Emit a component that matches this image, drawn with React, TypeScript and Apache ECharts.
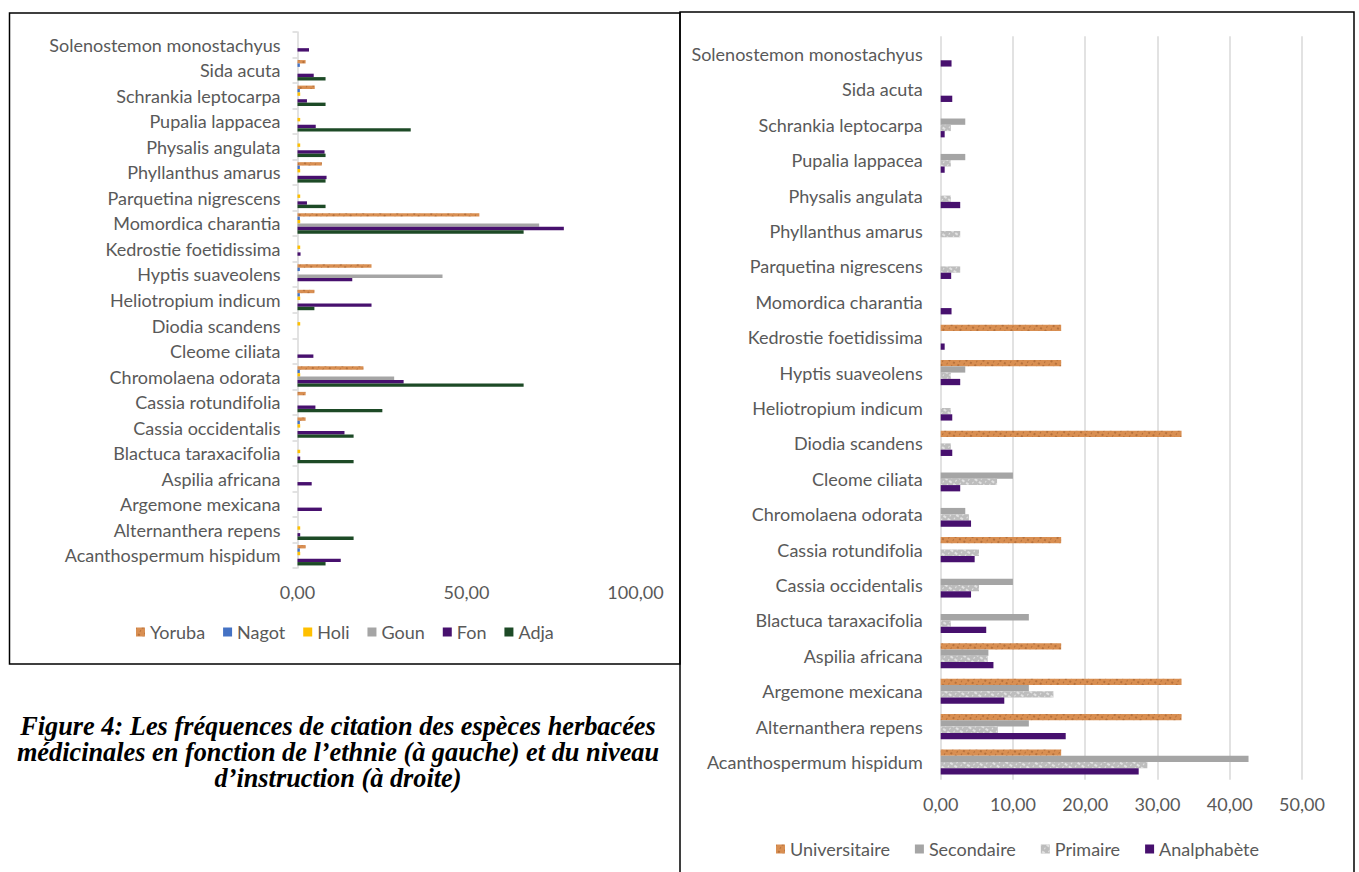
import React, { useEffect, useRef } from "react";
import * as echarts from "echarts";

// Species, listed bottom-to-top as they appear on the category axes
const species = [
  "Acanthospermum hispidum",
  "Alternanthera repens",
  "Argemone mexicana",
  "Aspilia africana",
  "Blactuca taraxacifolia",
  "Cassia occidentalis",
  "Cassia rotundifolia",
  "Chromolaena odorata",
  "Cleome ciliata",
  "Diodia scandens",
  "Heliotropium indicum",
  "Hyptis suaveolens",
  "Kedrostie foetidissima",
  "Momordica charantia",
  "Parquetina nigrescens",
  "Phyllanthus amarus",
  "Physalis angulata",
  "Pupalia lappacea",
  "Schrankia leptocarpa",
  "Sida acuta",
  "Solenostemon monostachyus",
];

// Citation frequencies by ethnic group
const yoruba = [2.4, 0, 0, 0, 0, 2.4, 2.4, 19.5, 0, 0, 5.0, 21.9, 0, 53.8, 0, 7.2, 0, 0, 5.1, 2.4, 0];
const nagot = [0.7, 0, 0, 0, 0, 0.7, 0, 0.7, 0, 0, 0.7, 0.7, 0, 0.7, 0, 0.7, 0, 0, 0.7, 0.7, 0];
const holi = [0.8, 0.8, 0, 0, 0.8, 0.8, 0, 0.8, 0, 0.8, 0.8, 0, 0.8, 0.8, 0.8, 0.8, 0.8, 0.8, 0.8, 0, 0];
const goun = [0, 0, 0, 0, 0, 0, 0, 28.6, 0, 0, 0, 42.9, 0, 71.5, 0, 0, 0, 0, 0, 0, 0];
const fon = [12.8, 0.8, 7.2, 4.2, 0.8, 13.9, 5.3, 31.4, 4.7, 0, 21.9, 16.2, 0.9, 78.8, 2.8, 8.6, 8.0, 5.4, 2.8, 4.8, 3.4];
const adja = [8.3, 16.6, 0, 0, 16.6, 16.6, 25.1, 66.9, 0, 0, 5.0, 0, 0, 66.9, 8.3, 8.3, 8.3, 33.5, 8.3, 8.3, 0];

// Citation frequencies by level of education
const universitaire = [16.67, 33.33, 33.33, 16.67, 0, 0, 16.67, 0, 0, 33.33, 0, 16.67, 16.67, 0, 0, 0, 0, 0, 0, 0, 0];
const secondaire = [42.6, 12.2, 12.2, 6.6, 12.2, 10.0, 0, 3.4, 10.0, 0, 0, 3.4, 0, 0, 0, 0, 0, 3.4, 3.4, 0, 0];
const primaire = [28.6, 7.9, 15.6, 6.5, 1.4, 5.3, 5.3, 3.9, 7.8, 1.4, 1.4, 1.4, 0, 0, 2.7, 2.7, 1.4, 1.4, 1.4, 0, 0];
const analphabete = [27.4, 17.3, 8.8, 7.3, 6.3, 4.2, 4.7, 4.2, 2.7, 1.6, 1.6, 2.7, 0.55, 1.5, 1.45, 0, 2.7, 0.55, 0.55, 1.6, 1.5];

// Axis tick values
const leftTicks = { min: 0, max: 100, interval: 50 };
const rightTicks = { min: 0, max: 50, interval: 10 };

const captionLines = [
  "Figure 4: Les fréquences de citation des espèces herbacées",
  "médicinales en fonction de l’ethnie (à gauche) et du niveau",
  "d’instruction (à droite)",
];

const FONT = "Lato";
const FONT_SIZE = 18;
const TEXT = "#595959";
const AXIS_GREY = "#D9D9D9";

const fmt = (v: number) => v.toFixed(2).replace(".", ",");

const sandDecal = {
  symbol: "rect",
  symbolSize: 1,
  color: "rgba(120, 60, 20, 0.35)",
  dashArrayX: [[2, 3], [1, 4]],
  dashArrayY: [2, 2],
  rotation: 0.5,
};

const greyDecal = {
  symbol: "rect",
  symbolSize: 1,
  color: "rgba(255, 255, 255, 0.55)",
  dashArrayX: [[3, 2], [1, 4]],
  dashArrayY: [2, 2],
  rotation: 0.6,
};

export default function App() {
  const ref = useRef<HTMLDivElement>(null);

  useEffect(() => {
    if (!ref.current) return;
    const chart = echarts.init(ref.current, undefined, { renderer: "svg" });

    const leftBar = (name: string, data: number[], color: string, decal?: any) => ({
      name,
      type: "bar",
      xAxisIndex: 0,
      yAxisIndex: 0,
      data,
      barGap: "0%",
      barCategoryGap: "20%",
      itemStyle: decal ? { color, decal } : { color },
    });
    const rightBar = (name: string, data: number[], color: string, decal?: any) => ({
      name,
      type: "bar",
      xAxisIndex: 1,
      yAxisIndex: 1,
      data,
      barGap: "0%",
      barCategoryGap: "29%",
      itemStyle: decal ? { color, decal } : { color },
    });

    const textStyle = { color: TEXT, fontFamily: FONT, fontSize: FONT_SIZE };
    const valAxisLabel = { ...textStyle, formatter: fmt };

    chart.setOption({
      animation: false,
      backgroundColor: "#ffffff",
      grid: [
        { left: 297.5, top: 32, width: 338, height: 536 },
        { left: 940.7, top: 36.3, width: 361.3, height: 743.4 },
      ],
      xAxis: [
        {
          gridIndex: 0,
          type: "value",
          ...leftTicks,
          axisLine: { show: false },
          axisTick: { show: false },
          splitLine: { show: false },
          axisLabel: { ...valAxisLabel, margin: 15 },
        },
        {
          gridIndex: 1,
          type: "value",
          ...rightTicks,
          axisLine: { show: false },
          axisTick: { show: false },
          splitLine: { show: true, lineStyle: { color: AXIS_GREY, width: 1.5 } },
          axisLabel: { ...valAxisLabel, margin: 15 },
        },
      ],
      yAxis: [
        {
          gridIndex: 0,
          type: "category",
          data: species,
          axisLine: { show: true, lineStyle: { color: AXIS_GREY, width: 1.5 } },
          axisTick: { show: true, length: 5, lineStyle: { color: AXIS_GREY, width: 1.5 } },
          axisLabel: { ...textStyle, margin: 17 },
        },
        {
          gridIndex: 1,
          type: "category",
          data: species,
          axisLine: { show: false },
          axisTick: { show: false },
          axisLabel: { ...textStyle, margin: 18 },
        },
      ],
      legend: [
        {
          data: ["Yoruba", "Nagot", "Holi", "Goun", "Fon", "Adja"],
          left: 131,
          top: 618,
          icon: "rect",
          itemWidth: 9,
          itemHeight: 9,
          itemGap: 18,
          textStyle,
        },
        {
          data: ["Universitaire", "Secondaire", "Primaire", "Analphabète"],
          left: 771,
          top: 835,
          icon: "rect",
          itemWidth: 9,
          itemHeight: 9,
          itemGap: 25,
          textStyle,
        },
      ],
      series: [
        leftBar("Yoruba", yoruba, "#D98F52", sandDecal),
        leftBar("Nagot", nagot, "#4472C4"),
        leftBar("Holi", holi, "#FFC000"),
        leftBar("Goun", goun, "#A5A5A5"),
        leftBar("Fon", fon, "#47106E"),
        leftBar("Adja", adja, "#1D4A26"),
        rightBar("Universitaire", universitaire, "#D98F52", sandDecal),
        rightBar("Secondaire", secondaire, "#A5A5A5"),
        rightBar("Primaire", primaire, "#BDBDBD", greyDecal),
        rightBar("Analphabète", analphabete, "#47106E"),
      ],
      graphic: [
        {
          type: "rect",
          shape: { x: 9.5, y: 13, width: 670.5, height: 651 },
          style: { fill: "none", stroke: "#000", lineWidth: 1.5 },
          silent: true,
        },
        {
          type: "rect",
          shape: { x: 680, y: 12, width: 674, height: 880 },
          style: { fill: "none", stroke: "#000", lineWidth: 1.5 },
          silent: true,
        },
        ...captionLines.map((t, i) => ({
          type: "text",
          x: 338,
          y: 726 + i * 26,
          style: {
            text: t,
            fill: "#000",
            font: 'italic bold 28px "Liberation Serif"',
            textAlign: "center",
            textVerticalAlign: "middle",
          },
          scaleX: 0.94,
          silent: true,
        })),
      ],
    });

    return () => chart.dispose();
  }, []);

  return (
    <div
      ref={ref}
      style={{ position: "fixed", left: 0, top: 0, width: 1359, height: 872 }}
    />
  );
}
